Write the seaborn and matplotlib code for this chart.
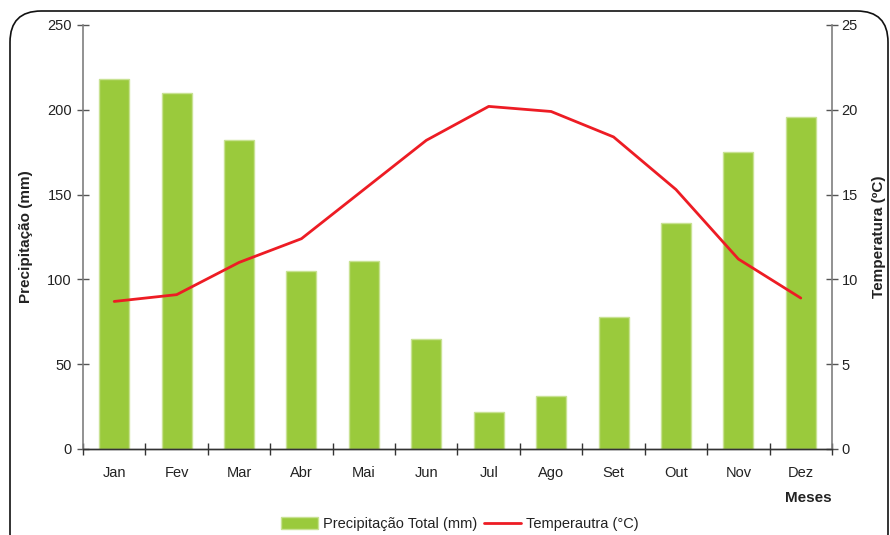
import matplotlib
matplotlib.use("Agg")
import matplotlib.pyplot as plt
from matplotlib.patches import FancyBboxPatch, Patch
from matplotlib.lines import Line2D
import seaborn as sns
import pandas as pd

# Monthly climate normals
meses = ["Jan", "Fev", "Mar", "Abr", "Mai", "Jun",
         "Jul", "Ago", "Set", "Out", "Nov", "Dez"]
precipitacao = [218, 210, 182, 105, 111, 65, 22, 31, 78, 133, 175, 196]
temperatura = [8.7, 9.1, 11.0, 12.4, 15.3, 18.2, 20.2, 19.9, 18.4, 15.3, 11.2, 8.9]

df = pd.DataFrame({"Mês": meses, "Precipitação": precipitacao,
                   "Temperatura": temperatura})

sns.set_theme(style="white")
plt.rcParams["font.family"] = ["Liberation Sans", "DejaVu Sans"]

GREEN = "#9ACA3C"
RED = "#ED1C24"
AXIS_GREY = "#7f7f7f"
TEXT = "#222222"

fig = plt.figure(figsize=(8.9, 5.35), dpi=100)
W, H = 890, 535
ax = fig.add_axes([83 / W, 1 - 449 / H, (832 - 83) / W, (449 - 25) / H])

sns.barplot(data=df, x="Mês", y="Precipitação", color=GREEN, width=0.48,
            edgecolor="#c8e293", linewidth=1.0, saturation=1, ax=ax)
ax.set_ylim(0, 250)
ax.set_xlim(-0.5, 11.5)
ax.set_yticks(range(0, 251, 50))

ax2 = ax.twinx()
sns.lineplot(data=df, x="Mês", y="Temperatura", color=RED, linewidth=2.0,
             sort=False, ax=ax2)
ax2.set_ylim(0, 25)
ax2.set_yticks(range(0, 26, 5))
ax2.set_xlim(-0.5, 11.5)

# Spines and ticks
for a in (ax, ax2):
    a.spines["top"].set_visible(False)
    a.spines["bottom"].set_color("#333333")
    a.spines["bottom"].set_linewidth(1.0)
    a.grid(False)
ax.spines["right"].set_visible(False)
ax.spines["left"].set_color(AXIS_GREY)
ax.spines["left"].set_linewidth(1.2)
ax2.spines["left"].set_visible(False)
ax2.spines["right"].set_color(AXIS_GREY)
ax2.spines["right"].set_linewidth(1.2)

ax.tick_params(axis="y", direction="inout", length=8, width=1,
               color="#555555", labelsize=10.5, labelcolor=TEXT, pad=4, left=True)
ax2.tick_params(axis="y", direction="inout", length=8, width=1,
                color="#555555", labelsize=10.5, labelcolor=TEXT, pad=3, right=True)
ax.set_xticks(range(12))
ax.set_xticklabels(meses)
ax.set_xticks([i - 0.5 for i in range(13)], minor=True)
ax.tick_params(axis="x", which="major", length=0, labelsize=10.5,
               labelcolor=TEXT, pad=12)
ax.tick_params(axis="x", which="minor", direction="inout", length=8,
               width=1, color="#333333", bottom=True)

ax.set_xlabel("Meses", fontsize=11, fontweight="bold", color=TEXT,
              loc="right", labelpad=8)
ax.set_ylabel("Precipitação (mm)", fontsize=11, fontweight="bold",
              color=TEXT, labelpad=10)
ax2.set_ylabel("Temperatura (ºC)", fontsize=11, fontweight="bold",
               color=TEXT, labelpad=10)

# Legend below the plot
handles = [Patch(facecolor=GREEN, edgecolor="#c8e293"),
           Line2D([0], [0], color=RED, linewidth=2.0)]
fig.legend(handles, ["Precipitação Total (mm)", "Temperautra (°C)"],
           loc="center", bbox_to_anchor=(460 / W, 1 - 524 / H), ncol=2,
           frameon=False, fontsize=10.5, handlelength=2.5, handleheight=0.9,
           columnspacing=0.5, handletextpad=0.35, labelcolor=TEXT)

# Rounded outer frame
frame = FancyBboxPatch((10 / W, -30 / H), (888 - 10) / W, (535 + 30 - 11) / H,
                       boxstyle="round,pad=0,rounding_size=0.035",
                       transform=fig.transFigure, fill=False,
                       edgecolor="#111111", linewidth=1.2, clip_on=False,
                       mutation_aspect=W / H)
fig.patches.append(frame)

fig.savefig("out.png", dpi=100, facecolor="white")
